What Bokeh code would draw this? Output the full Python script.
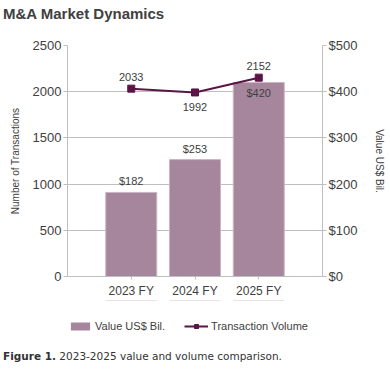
from bokeh.plotting import figure
from bokeh.layouts import column
from bokeh.models import (ColumnDataSource, FactorRange, Range1d, LinearAxis, FixedTicker,
                          PrintfTickFormatter, LabelSet, Legend, LegendItem, Div)
from bokeh.core.properties import value
from bokeh.embed import file_html
from bokeh.resources import INLINE

# ---- data ----
years = ["2023 FY", "2024 FY", "2025 FY"]
value_bil = [182, 253, 420]
volume = [2033, 1992, 2152]
volume_ticks = [0, 500, 1000, 1500, 2000, 2500]
value_ticks = [0, 100, 200, 300, 400, 500]
title_text = "M&A Market Dynamics"
caption_bold = "Figure 1."
caption_text = "2023-2025 value and volume comparison."
series_names = ["Value US$ Bil.", "Transaction Volume"]

# ---- styles ----
BAR = "#a6869c"
BAR_EDGE = "#c9b6c3"
LINE = "#5a1446"
TXT = "#404040"
GRID = "#bfbfbf"
FONT = "Liberation Sans"

vol_offsets = [12, -15, 12]
val_offsets = [11, 11, -11]

src = ColumnDataSource(dict(
    x=years, val=value_bil, vol=volume,
    val_txt=["$%d" % v for v in value_bil],
    vol_txt=[str(v) for v in volume],
    vol_off=vol_offsets, val_off=val_offsets,
))

title = Div(text=title_text, width=388, height=28, margin=0,
            styles={"font-family": "'Liberation Sans'", "font-size": "15px",
                    "font-weight": "bold", "color": TXT,
                    "padding-left": "3px", "line-height": "28px"})

fig = figure(width=388, height=272, output_backend="svg", toolbar_location=None,
             x_range=FactorRange(factors=years, range_padding=1/3),
             y_range=Range1d(0, 2500),
             min_border_left=67, min_border_right=66, min_border_top=17, min_border_bottom=23)
fig.outline_line_color = None
fig.extra_y_ranges = {"val": Range1d(0, 500)}

# grid
fig.xgrid.visible = False
fig.ygrid.ticker = FixedTicker(ticks=volume_ticks)
fig.ygrid.grid_line_color = GRID
fig.ygrid.grid_line_width = 1

# axes
for ax in [fig.xaxis[0], fig.yaxis[0]]:
    ax.axis_line_color = GRID
    ax.major_tick_line_color = GRID
    ax.minor_tick_line_color = None
    ax.major_tick_in = 0
    ax.major_label_text_font = FONT
    ax.major_label_text_color = TXT
    ax.axis_label_text_font = FONT
    ax.axis_label_text_color = TXT
    ax.axis_label_text_font_style = "normal"

fig.xaxis.major_tick_out = 3
fig.xaxis.major_label_text_font_size = "12px"
fig.xaxis.major_label_standoff = 4

fig.yaxis.ticker = FixedTicker(ticks=volume_ticks)
fig.yaxis.major_tick_out = 4
fig.yaxis.major_label_standoff = 2
fig.yaxis.major_label_text_font_size = "13px"
fig.yaxis.axis_label = "Number of Transactions"
fig.yaxis.axis_label_text_font_size = "10px"
fig.yaxis.axis_label_standoff = 9

rax = LinearAxis(y_range_name="val", ticker=FixedTicker(ticks=value_ticks),
                 formatter=PrintfTickFormatter(format="$%d"),
                 axis_label="Value US$ Bil.")
rax.axis_line_color = GRID
rax.major_tick_line_color = GRID
rax.minor_tick_line_color = None
rax.major_tick_in = 0
rax.major_tick_out = 4
rax.major_label_standoff = 2
rax.major_label_text_font = FONT
rax.major_label_text_font_size = "13px"
rax.major_label_text_color = TXT
rax.axis_label_text_font = FONT
rax.axis_label_text_font_size = "10px"
rax.axis_label_text_color = TXT
rax.axis_label_text_font_style = "normal"
rax.axis_label_standoff = 14
fig.add_layout(rax, "right")

# marks
fig.vbar(x="x", top="val", width=0.8, source=src, y_range_name="val",
         fill_color=BAR, line_color=BAR_EDGE, line_width=1)
fig.line(x="x", y="vol", source=src, line_color=LINE, line_width=2)
fig.scatter(x="x", y="vol", source=src, marker="square", size=7,
            fill_color=LINE, line_color=LINE)

fig.add_layout(LabelSet(x="x", y="val", text="val_txt", source=src, y_range_name="val",
                        y_offset="val_off", text_align="center", text_baseline="middle",
                        text_font=value(FONT), text_font_size=value("11px"), text_color=TXT))
fig.add_layout(LabelSet(x="x", y="vol", text="vol_txt", source=src,
                        y_offset="vol_off", text_align="center", text_baseline="middle",
                        text_font=value(FONT), text_font_size=value("11px"), text_color=TXT))

# legend strip: same series and styles; its view window shows none of the marks
leg = figure(width=388, height=45, output_backend="svg", toolbar_location=None,
             x_range=FactorRange(factors=years, range_padding=1/3),
             y_range=Range1d(-2, -1), extra_y_ranges={"val": Range1d(-2, -1)},
             x_axis_location=None, y_axis_location=None,
             min_border_left=67, min_border_right=66, min_border_top=0, min_border_bottom=0)
leg.outline_line_color = None
leg.grid.visible = False
lb = leg.vbar(x="x", top="val", bottom="val", width=0.8, source=src, y_range_name="val",
              fill_color=BAR, line_color=None)
ll = leg.line(x="x", y="vol", source=src, line_color=LINE, line_width=2)
lm = leg.scatter(x="x", y="vol", source=src, marker="square", size=7,
                 fill_color=LINE, line_color=LINE)
legend = Legend(items=[LegendItem(label=series_names[0], renderers=[lb]),
                       LegendItem(label=series_names[1], renderers=[ll, lm])],
                location=(1, 13), orientation="horizontal",
                glyph_width=24, glyph_height=10, label_height=12, label_standoff=3,
                spacing=19, padding=0, margin=0,
                border_line_color=None, background_fill_alpha=0,
                label_text_font=FONT, label_text_font_size="11px", label_text_color=TXT)
leg.add_layout(legend, "center")

cap = Div(text="<b>%s</b> %s" % (caption_bold, caption_text), width=388, height=23, margin=0,
          styles={"font-family": "'DejaVu Sans'", "font-size": "10.5px", "color": "#333333",
                  "padding-left": "3px", "line-height": "23px"})

p = column(title, fig, leg, cap)
open("out.html", "w").write(file_html(p, INLINE))
